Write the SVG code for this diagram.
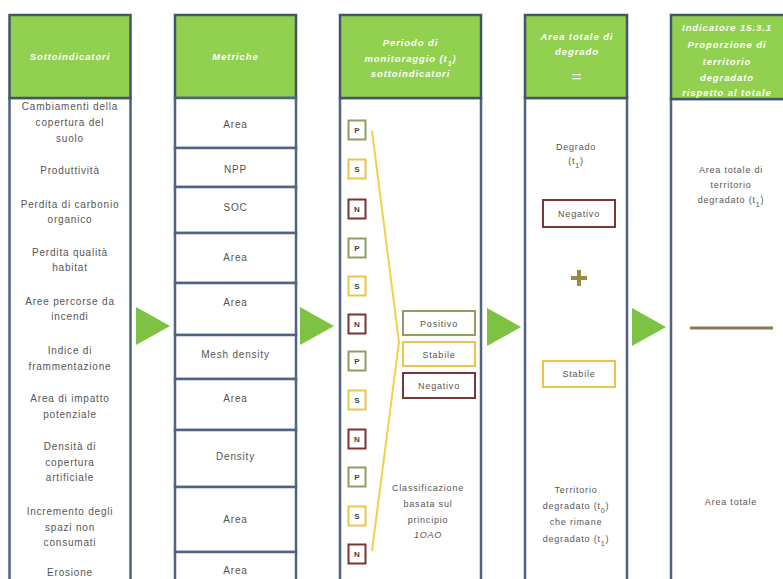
<svg xmlns="http://www.w3.org/2000/svg" width="783" height="579" viewBox="0 0 783 579">
<style>
.hdr{fill:#92D050;stroke:#44546A;stroke-width:2.5}
.body{fill:#fff;stroke:#4F6483;stroke-width:2.5}
.ht{font-family:"Liberation Sans",Arial,sans-serif;font-size:9.5px;font-weight:bold;font-style:italic;fill:#fff;text-anchor:middle;letter-spacing:0.9px}
.bt{font-family:"Liberation Sans",Arial,sans-serif;font-size:10px;fill:#555;text-anchor:middle;letter-spacing:0.8px}
.arr{fill:#7DC242}
.p{fill:#fff;stroke:#8E9F62;stroke-width:2}
.s{fill:#fff;stroke:#E9C54A;stroke-width:2}
.n{fill:#fff;stroke:#7A3535;stroke-width:2}
.lt{font-family:"Liberation Sans",Arial,sans-serif;font-size:8px;font-weight:bold;fill:#444;text-anchor:middle}
.sub{font-size:7px}
</style>
<rect width="783" height="579" fill="#fff"/>

<g id="col1">
<rect class="body" x="9.5" y="98" width="121" height="510"/>
<rect class="hdr" x="9.5" y="15" width="121" height="83"/>
<text class="ht" x="70" y="60">Sottoindicatori</text>
<text class="bt" x="70" y="110">Cambiamenti della</text>
<text class="bt" x="70" y="126">copertura del</text>
<text class="bt" x="70" y="142">suolo</text>
<text class="bt" x="70" y="174">Produttività</text>
<text class="bt" x="70" y="208">Perdita di carbonio</text>
<text class="bt" x="70" y="223">organico</text>
<text class="bt" x="70" y="256">Perdita qualità</text>
<text class="bt" x="70" y="271">habitat</text>
<text class="bt" x="70" y="305">Aree percorse da</text>
<text class="bt" x="70" y="320">incendi</text>
<text class="bt" x="70" y="354">Indice di</text>
<text class="bt" x="70" y="370">frammentazione</text>
<text class="bt" x="70" y="402">Area di impatto</text>
<text class="bt" x="70" y="418">potenziale</text>
<text class="bt" x="70" y="450">Densità di</text>
<text class="bt" x="70" y="466">copertura</text>
<text class="bt" x="70" y="481">artificiale</text>
<text class="bt" x="70" y="515">Incremento degli</text>
<text class="bt" x="70" y="531">spazi non</text>
<text class="bt" x="70" y="546">consumati</text>
<text class="bt" x="70" y="576">Erosione</text>
</g>

<g id="col2">
<rect class="hdr" x="175" y="15" width="121" height="83"/>
<text class="ht" x="235.5" y="60">Metriche</text>
<rect class="body" x="175" y="98" width="121" height="50"/>
<rect class="body" x="175" y="148" width="121" height="39"/>
<rect class="body" x="175" y="187" width="121" height="46"/>
<rect class="body" x="175" y="233" width="121" height="50"/>
<rect class="body" x="175" y="283" width="121" height="52"/>
<rect class="body" x="175" y="335" width="121" height="44"/>
<rect class="body" x="175" y="379" width="121" height="51"/>
<rect class="body" x="175" y="430" width="121" height="57"/>
<rect class="body" x="175" y="487" width="121" height="65"/>
<rect class="body" x="175" y="552" width="121" height="50"/>
<text class="bt" x="235.5" y="128">Area</text>
<text class="bt" x="235.5" y="173">NPP</text>
<text class="bt" x="235.5" y="211">SOC</text>
<text class="bt" x="235.5" y="261">Area</text>
<text class="bt" x="235.5" y="306">Area</text>
<text class="bt" x="235.5" y="358">Mesh density</text>
<text class="bt" x="235.5" y="402">Area</text>
<text class="bt" x="235.5" y="460">Density</text>
<text class="bt" x="235.5" y="523">Area</text>
<text class="bt" x="235.5" y="574">Area</text>
</g>

<g id="col3">
<rect class="body" x="340" y="98" width="141" height="510"/>
<rect class="hdr" x="340" y="15" width="141" height="83"/>
<text class="ht" x="410.5" y="46">Periodo di</text>
<text class="ht" x="410.5" y="62">monitoraggio (t<tspan class="sub" baseline-shift="sub">1</tspan>)</text>
<text class="ht" x="410.5" y="77">sottoindicatori</text>
<polyline points="372,131 399,342 372,551" fill="none" stroke="#F2CF4C" stroke-width="2"/>
<g id="psn">
<rect class="p" x="348.5" y="120.5" width="17" height="19"/><text class="lt" x="357" y="133">P</text>
<rect class="s" x="348.5" y="159.5" width="17" height="19"/><text class="lt" x="357" y="172">S</text>
<rect class="n" x="348.5" y="199.5" width="17" height="19"/><text class="lt" x="357" y="212">N</text>
<rect class="p" x="348.5" y="238.5" width="17" height="19"/><text class="lt" x="357" y="251">P</text>
<rect class="s" x="348.5" y="276.5" width="17" height="19"/><text class="lt" x="357" y="289">S</text>
<rect class="n" x="348.5" y="314.5" width="17" height="19"/><text class="lt" x="357" y="327">N</text>
<rect class="p" x="348.5" y="351.5" width="17" height="19"/><text class="lt" x="357" y="364">P</text>
<rect class="s" x="348.5" y="390.5" width="17" height="19"/><text class="lt" x="357" y="403">S</text>
<rect class="n" x="348.5" y="429.5" width="17" height="19"/><text class="lt" x="357" y="442">N</text>
<rect class="p" x="348.5" y="467.5" width="17" height="19"/><text class="lt" x="357" y="480">P</text>
<rect class="s" x="348.5" y="506.5" width="17" height="19"/><text class="lt" x="357" y="519">S</text>
<rect class="n" x="348.5" y="544.5" width="17" height="19"/><text class="lt" x="357" y="557">N</text>
</g>
<rect class="p" x="403" y="311" width="72" height="24"/>
<text class="bt" x="439" y="327" style="font-size:9px">Positivo</text>
<rect class="s" x="403" y="342" width="72" height="24"/>
<text class="bt" x="439" y="358" style="font-size:9px">Stabile</text>
<rect class="n" x="403" y="373" width="72" height="25"/>
<text class="bt" x="439" y="389" style="font-size:9px">Negativo</text>
<text class="bt" x="428" y="491" style="font-size:9px">Classificazione</text>
<text class="bt" x="428" y="507" style="font-size:9px">basata sul</text>
<text class="bt" x="428" y="523" style="font-size:9px">principio</text>
<text class="bt" x="428" y="538" style="font-size:9px;font-style:italic">1OAO</text>
</g>

<g id="col4">
<rect class="body" x="525" y="98" width="102" height="510"/>
<rect class="hdr" x="525" y="15" width="102" height="83"/>
<text class="ht" x="577" y="40">Area totale di</text>
<text class="ht" x="577" y="55">degrado</text>
<text class="ht" x="577" y="82" style="font-size:17px;font-style:normal;font-weight:normal">=</text>
<text class="bt" x="576" y="150" style="font-size:9px">Degrado</text>
<text class="bt" x="576" y="164" style="font-size:9px">(t<tspan class="sub" baseline-shift="sub">1</tspan>)</text>
<rect class="n" x="543" y="200" width="72" height="27"/>
<text class="bt" x="579" y="217" style="font-size:9px">Negativo</text>
<path d="M571,278 H587 M579,270 V286" stroke="#9C8B45" stroke-width="4" fill="none"/>
<rect class="s" x="543" y="361" width="72" height="26"/>
<text class="bt" x="579" y="377" style="font-size:9px">Stabile</text>
<text class="bt" x="576" y="493" style="font-size:9px">Territorio</text>
<text class="bt" x="576" y="509" style="font-size:9px">degradato (t<tspan class="sub" baseline-shift="sub">0</tspan>)</text>
<text class="bt" x="576" y="525" style="font-size:9px">che rimane</text>
<text class="bt" x="576" y="542" style="font-size:9px">degradato (t<tspan class="sub" baseline-shift="sub">1</tspan>)</text>
</g>

<g id="col5">
<rect class="body" x="671" y="99" width="125" height="510"/>
<rect class="hdr" x="671" y="15" width="125" height="84"/>
<text class="ht" x="727" y="31">Indicatore 15.3.1</text>
<text class="ht" x="727" y="48">Proporzione di</text>
<text class="ht" x="727" y="65">territorio</text>
<text class="ht" x="727" y="81">degradato</text>
<text class="ht" x="727" y="96">rispetto al totale</text>
<text class="bt" x="731" y="173" style="font-size:9px">Area totale di</text>
<text class="bt" x="731" y="188" style="font-size:9px">territorio</text>
<text class="bt" x="731" y="203" style="font-size:9px">degradato (t<tspan class="sub" baseline-shift="sub">1</tspan>)</text>
<line x1="690" y1="328" x2="773" y2="328" stroke="#8B7B4F" stroke-width="3"/>
<text class="bt" x="731" y="505" style="font-size:9px">Area totale</text>
</g>

<g id="connectors">
<polygon class="arr" points="136,307 170,326 136,345"/>
<polygon class="arr" points="300,307 334,326 300,345"/>
<polygon class="arr" points="487,308 521,327 487,346"/>
<polygon class="arr" points="632,308 666,327 632,346"/>
</g>
</svg>
